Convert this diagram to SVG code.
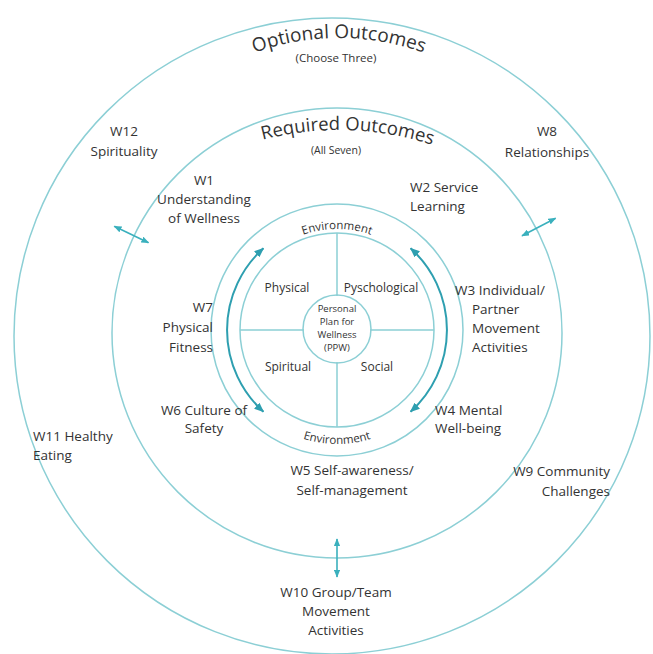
<svg xmlns="http://www.w3.org/2000/svg" width="653" height="654" viewBox="0 0 653 654">
<style>
.c{fill:none;stroke:#8ccfd5;stroke-width:1.5}
.t{font-family:"Open Sans","Noto Sans",sans-serif;fill:#333333;font-size:13.5px;font-weight:500}
.m{text-anchor:middle}
.s{text-anchor:start}
.e{text-anchor:end}
.q{font-size:12px}
.v{font-size:11.5px}
.p{font-size:9.5px}
.arc{fill:none;stroke:#2e9fb0;stroke-width:2;marker-start:url(#ah);marker-end:url(#ah)}
.da{fill:none;stroke:#3ab0bd;stroke-width:1.6;marker-start:url(#ah2);marker-end:url(#ah2)}
</style>
<defs>
<marker id="ah" viewBox="0 0 10 8" refX="9" refY="4" markerWidth="5" markerHeight="4" orient="auto-start-reverse" markerUnits="strokeWidth"><path d="M0,0 L10,4 L0,8 z" fill="#2e9fb0"/></marker>
<marker id="ah2" viewBox="0 0 10 8" refX="9" refY="4" markerWidth="5" markerHeight="4" orient="auto-start-reverse" markerUnits="strokeWidth"><path d="M0,0 L10,4 L0,8 z" fill="#3ab0bd"/></marker>
<path id="pOpt" d="M139,138 A250,250 0 0 1 539,138"/>
<path id="pReq" d="M139,206.4 A300,300 0 0 1 539,206.4"/>
<path id="pEnvT" d="M259.6,265.1 A101,101 0 0 1 414.4,265.1"/>
<path id="pEnvB" d="M249.7,403.3 A114,114 0 0 0 424.3,403.3"/>
</defs>
<rect width="653" height="654" fill="#ffffff"/>
<g id="optional-ring">
<circle class="c" cx="332" cy="336" r="318"/>
<text class="t" style="font-size:19px"><textPath href="#pOpt" startOffset="50%" text-anchor="middle">Optional Outcomes</textPath></text>
<text class="t m" x="336" y="62" style="font-size:11.5px">(Choose Three)</text>
</g>
<g id="required-ring">
<circle class="c" cx="337" cy="333" r="225"/>
<text class="t" style="font-size:18.5px"><textPath href="#pReq" startOffset="52%" text-anchor="middle">Required Outcomes</textPath></text>
<text class="t m" x="336" y="154" style="font-size:10.5px">(All Seven)</text>
</g>
<g id="environment-ring">
<circle class="c" cx="337" cy="330" r="126"/>
<text class="t v"><textPath href="#pEnvT" startOffset="50%" text-anchor="middle">Environment</textPath></text>
<text class="t v"><textPath href="#pEnvB" startOffset="50%" text-anchor="middle">Environment</textPath></text>
</g>
<g id="quadrants">
<circle class="c" cx="337" cy="330" r="97"/>
<path class="c" d="M240,330 H304 M370,330 H434 M337,233 V296 M337,362 V427"/>
<text class="t q m" x="287" y="292">Physical</text>
<text class="t q m" x="381" y="292">Pyschological</text>
<text class="t q m" x="288" y="371">Spiritual</text>
<text class="t q m" x="377" y="371">Social</text>
</g>
<g id="ppw">
<circle class="c" cx="337" cy="329" r="34"/>
<text class="t p m" x="337" y="312">Personal</text>
<text class="t p m" x="337" y="325">Plan for</text>
<text class="t p m" x="337" y="338">Wellness</text>
<text class="t p m" x="337" y="351">(PPW)</text>
</g>
<g id="W12"><text class="t m" x="124" y="136">W12</text><text class="t m" x="124" y="156">Spirituality</text></g>
<g id="W8"><text class="t m" x="547" y="136">W8</text><text class="t m" x="547" y="157">Relationships</text></g>
<g id="W1"><text class="t m" x="204" y="185">W1</text><text class="t m" x="204" y="204">Understanding</text><text class="t m" x="204" y="223">of Wellness</text></g>
<g id="W2"><text class="t s" x="410" y="192">W2 Service</text><text class="t s" x="410" y="211">Learning</text></g>
<g id="W3"><text class="t s" x="455" y="295">W3 Individual/</text><text class="t s" x="472" y="314">Partner</text><text class="t s" x="472" y="333">Movement</text><text class="t s" x="472" y="352">Activities</text></g>
<g id="W7"><text class="t e" x="213" y="312">W7</text><text class="t e" x="213" y="332">Physical</text><text class="t e" x="213" y="352">Fitness</text></g>
<g id="W6"><text class="t m" x="204" y="415">W6 Culture of</text><text class="t m" x="204" y="433">Safety</text></g>
<g id="W4"><text class="t s" x="435" y="415">W4 Mental</text><text class="t s" x="435" y="433">Well-being</text></g>
<g id="W5"><text class="t m" x="352" y="475">W5 Self-awareness/</text><text class="t m" x="352" y="495">Self-management</text></g>
<g id="W11"><text class="t s" x="33" y="441">W11 Healthy</text><text class="t s" x="33" y="460">Eating</text></g>
<g id="W9"><text class="t e" x="610" y="476">W9 Community</text><text class="t e" x="610" y="496">Challenges</text></g>
<g id="W10"><text class="t m" x="336" y="597">W10 Group/Team</text><text class="t m" x="336" y="616">Movement</text><text class="t m" x="336" y="635">Activities</text></g>
<g id="connectors">
<path class="arc" d="M263.4,248.3 A110,110 0 0 0 263.4,411.7"/>
<path class="arc" d="M410.6,248.3 A110,110 0 0 1 410.6,411.7"/>
<path class="da" d="M114.3,226.3 L148.5,242.7"/>
<path class="da" d="M522,235.8 L555.6,218.2"/>
<path class="da" d="M337,539 L337,577"/>
</g>
</svg>
